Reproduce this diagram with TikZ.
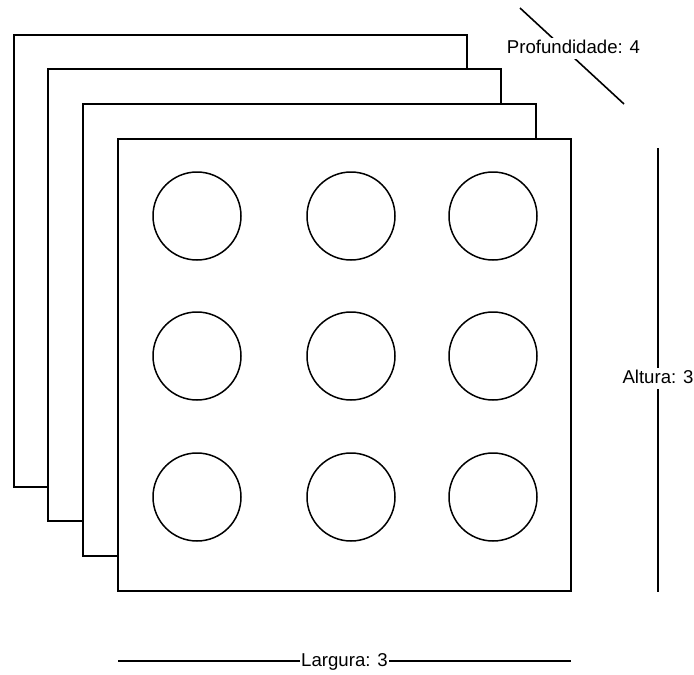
\documentclass[tikz,border=0pt]{standalone}
\usepackage{fontspec}
\setmainfont{Liberation Sans}
\usetikzlibrary{positioning}

\begin{document}
\begin{tikzpicture}[
  x=1pt, y=-1pt, line width=1.6pt,
  every node/.style={font=\fontsize{18.6}{21}\selectfont},
  sheet/.style={draw, fill=white, minimum width=453pt, minimum height=452pt,
                inner sep=0pt, outer sep=0pt},
  hole/.style={draw, circle, line width=1.5pt, minimum size=88pt, inner sep=0pt},
  dim/.style={line width=1.6pt},
  lbl/.style={fill=white, inner sep=1.5pt, text height=14pt, text depth=4pt}
]
  \useasboundingbox (0,0) rectangle (694,675);
  % the four layers, back to front
  \foreach \d [count=\i] in {0,34,69,104} {
    \node[sheet] (s\i) at ({240.5+\d},{261+\d}) {};
  }
  % 3x3 grid on the front layer
  \foreach \x [count=\c] in {197,351,493} {
    \foreach \y [count=\r] in {216,356,497} {
      \node[hole] (h\r\c) at (\x,\y) {};
    }
  }
  % dimensions
  \coordinate (pa) at (520,8);
  \coordinate (pb) at (624,104);
  \draw[dim] (pa) -- node[lbl, xshift=1.5pt, yshift=8pt] {Profundidade: 4} (pb);
  \coordinate (ha) at (658,148);
  \coordinate (hb) at (658,592);
  \draw[dim] (ha) -- node[lbl, pos=0.52] {Altura: 3} (hb);
  \coordinate (wa) at (118,661);
  \coordinate (wb) at (571,661);
  \draw[dim] (wa) -- node[lbl] {Largura: 3} (wb);
\end{tikzpicture}
\end{document}
